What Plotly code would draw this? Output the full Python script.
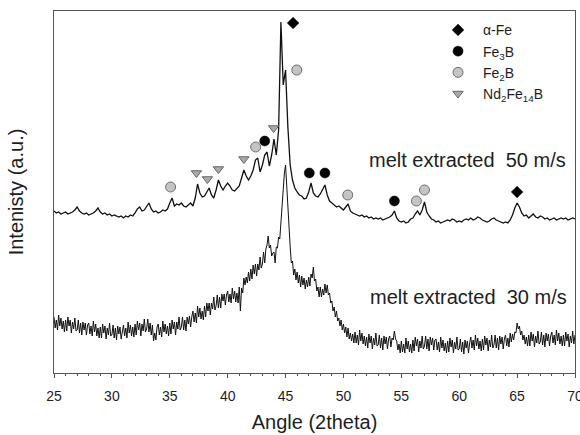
import numpy as np
import plotly.graph_objects as go

# Sampling angles (2theta)
angle_50 = np.round(np.linspace(25.0, 70.0, 226), 1)   # 0.2 deg step
angle_30 = np.round(np.linspace(25.0, 70.0, 451), 1)   # 0.1 deg step

# Melt extracted 50 m/s (a.u.)
int_50 = [
    162,160,161,159,160,161,159,160,161,163,
    166,162,160,159,160,158,159,160,162,165,
    161,159,160,158,159,157,158,157,156,157,
    155,157,156,158,157,160,164,166,162,163,
    167,170,164,161,162,160,161,163,162,164,
    170,175,167,169,168,170,167,166,168,170,
    167,175,189,180,176,177,181,185,178,175,
    183,193,187,183,187,190,187,183,182,185,
    187,195,203,197,193,197,203,213,215,201,
    208,218,221,207,218,234,218,243,351,288,
    303,246,208,193,185,181,178,177,174,175,
    181,190,180,177,176,179,183,188,178,172,
    170,168,166,167,165,163,166,169,162,160,
    159,158,157,158,156,157,155,156,154,155,
    154,155,153,154,155,156,158,162,155,152,
    151,152,150,151,154,155,159,162,158,163,
    171,161,157,154,153,151,152,150,151,152,
    153,152,154,153,151,152,151,153,154,153,
    155,153,154,156,155,153,152,151,152,154,
    155,153,152,151,150,151,150,153,158,165,
    170,166,160,157,158,155,157,159,156,155,
    157,156,154,155,153,154,155,153,154,155,
    154,155,153,154,155,154,
]

# Melt extracted 30 m/s (a.u.), one row per degree
int_30 = [
    56,45,53,43,58,47,55,44,52,41,        # 25
    53,42,56,47,53,40,51,44,55,42,        # 26
    43,53,40,50,38,51,43,50,38,48,        # 27
    50,39,47,37,52,41,49,37,45,35,        # 28
    46,35,49,40,47,34,45,38,50,37,        # 29
    38,48,35,45,33,47,39,46,34,44,        # 30
    48,37,45,35,51,40,48,37,46,36,        # 31
    49,38,52,43,50,37,49,42,54,41,        # 32
    44,54,41,50,38,48,32,40,33,46,        # 33
    49,38,46,36,52,41,49,39,47,37,        # 34
    50,39,53,44,51,38,51,44,56,43,        # 35
    46,56,43,53,42,56,49,57,46,56,        # 36
    62,51,60,50,67,56,65,54,62,53,        # 37
    67,56,70,62,70,58,70,64,76,63,        # 38
    67,78,65,76,65,79,72,79,68,78,        # 39
    82,71,79,70,85,74,82,71,80,70,        # 40
    86,62,85,80,95,88,96,90,101,92,       # 41
    104,94,108,99,109,97,109,103,116,105, # 42
    109,121,110,124,128,137,125,128,117,120,  # 43
    121,110,126,125,136,134,152,165,183,200,  # 44
    208,185,160,140,126,110,112,98,104,93,    # 45
    101,90,98,86,97,88,95,84,93,86,       # 46
    96,87,99,95,106,92,94,82,86,76,       # 47
    86,76,84,78,89,80,88,78,80,70,        # 48
    72,62,66,56,62,52,55,47,53,43,        # 49
    49,40,46,36,45,34,40,32,39,30,        # 50
    41,30,38,28,43,32,40,29,37,27,        # 51
    36,25,39,30,37,24,35,28,40,27,        # 52
    28,38,25,35,23,37,29,36,24,34,        # 53
    37,26,35,33,42,34,32,23,29,20,        # 54
    32,21,29,20,35,24,32,21,29,20,        # 55
    33,22,36,27,34,21,32,25,37,24,        # 56
    27,37,24,34,22,36,28,35,23,33,        # 57
    34,23,31,21,36,25,33,22,30,20,        # 58
    32,21,35,26,33,20,31,24,36,23,        # 59
    24,34,21,31,19,33,25,32,20,30,        # 60
    36,25,33,23,38,27,35,24,32,22,        # 61
    34,23,37,28,35,22,33,26,38,25,        # 62
    28,38,25,35,23,37,29,36,24,34,        # 63
    38,27,35,26,40,31,39,33,41,40,        # 64
    50,44,47,38,42,33,38,29,36,27,        # 65
    38,27,41,32,39,26,37,30,42,29,        # 66
    31,41,28,38,26,40,32,39,27,37,        # 67
    41,30,38,28,43,32,40,29,37,27,        # 68
    38,27,41,32,39,26,37,30,42,29,        # 69
    38,                                   # 70
]

# Phase markers (angle, a.u.)
afe_x = [45.65, 65.0]
afe_y = [350, 181]
fe3b_x = [43.2, 47.05, 48.4, 54.4]
fe3b_y = [232, 200, 200, 172]
fe2b_x = [35.07, 42.42, 45.97, 50.37, 56.3, 57.0]
fe2b_y = [186, 226, 303, 178, 172, 183]
nd_x = [37.3, 38.25, 39.2, 41.4, 43.97]
nd_y = [200, 194, 204, 214, 245]

labels = ["\u03b1-Fe", "Fe<sub>3</sub>B", "Fe<sub>2</sub>B", "Nd<sub>2</sub>Fe<sub>14</sub>B"]
curve_labels = ["melt extracted\u00a0 50 m/s", "melt extracted\u00a0 30 m/s"]

FONT = "Liberation Sans, Arial, sans-serif"
TXT = "#1e1e1e"

fig = go.Figure()
fig.add_trace(go.Scatter(x=angle_50, y=int_50, mode="lines",
                         line=dict(color="#111111", width=1.3), showlegend=False))
fig.add_trace(go.Scatter(x=angle_30, y=int_30, mode="lines",
                         line=dict(color="#111111", width=1), showlegend=False))

fig.add_trace(go.Scatter(x=afe_x, y=afe_y, mode="markers", name=labels[0],
                         marker=dict(symbol="diamond", size=9, color="#000000",
                                     line=dict(color="#000000", width=0.5))))
fig.add_trace(go.Scatter(x=fe3b_x, y=fe3b_y, mode="markers", name=labels[1],
                         marker=dict(symbol="circle", size=10, color="#000000",
                                     line=dict(color="#000000", width=0.5))))
fig.add_trace(go.Scatter(x=fe2b_x, y=fe2b_y, mode="markers", name=labels[2],
                         marker=dict(symbol="circle", size=10, color="#c4c4c4",
                                     line=dict(color="#6e6e6e", width=1))))
fig.add_trace(go.Scatter(x=nd_x, y=nd_y, mode="markers", name=labels[3],
                         marker=dict(symbol="triangle-down", size=9, color="#aaaaaa",
                                     line=dict(color="#666666", width=1))))

fig.add_annotation(text=curve_labels[0], xref="paper", yref="paper",
                   x=0.987, y=0.588, xanchor="right", yanchor="middle",
                   showarrow=False, font=dict(family=FONT, size=20, color=TXT))
fig.add_annotation(text=curve_labels[1], xref="paper", yref="paper",
                   x=0.989, y=0.211, xanchor="right", yanchor="middle",
                   showarrow=False, font=dict(family=FONT, size=20, color=TXT))

fig.update_layout(
    width=580, height=435,
    margin=dict(l=54, r=5, t=11, b=62, autoexpand=False),
    paper_bgcolor="white", plot_bgcolor="white",
    font=dict(family=FONT, color=TXT),
    legend=dict(xref="container", yref="container", x=0.7466, y=0.967,
                xanchor="left", yanchor="top",
                bgcolor="rgba(0,0,0,0)", font=dict(family=FONT, size=14, color=TXT),
                itemwidth=40, tracegroupgap=0, itemclick=False),
    xaxis=dict(range=[25, 70], dtick=5, tick0=25, showgrid=False, zeroline=False,
               automargin=False,
               showline=True, linecolor="#555555", linewidth=1, mirror=True,
               ticks="outside", ticklen=4, tickcolor="#555555", tickwidth=1,
               ticklabelstandoff=6, ticklabeloverflow="allow",
               tickfont=dict(family=FONT, size=14, color=TXT),
               minor=dict(dtick=1, ticks="outside", ticklen=2, tickcolor="#555555", showgrid=False),
               title=dict(text="Angle (2theta)", font=dict(family=FONT, size=20, color=TXT), standoff=12)),
    yaxis=dict(range=[0, 362], showgrid=False, zeroline=False, showticklabels=False,
               automargin=False,
               showline=True, linecolor="#555555", linewidth=1, mirror=True, ticks="",
               title=dict(text="Intenisty (a.u.)", font=dict(family=FONT, size=20, color=TXT), standoff=24)),
)

fig.write_html("out.html")
